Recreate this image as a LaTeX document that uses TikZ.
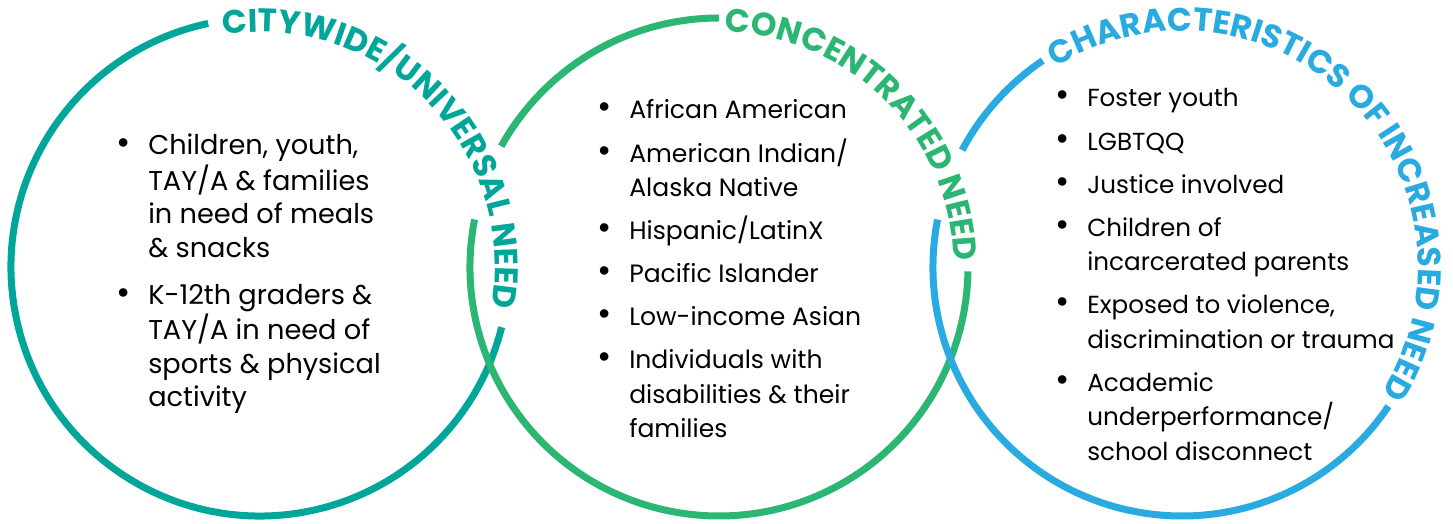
\documentclass[tikz,border=0pt]{standalone}
\usepackage{fontspec}
\setmainfont{Poppins}
\usetikzlibrary{decorations.text}
\definecolor{cityteal}{RGB}{0,166,154}
\definecolor{concgreen}{RGB}{44,182,115}
\definecolor{charblue}{RGB}{41,170,225}
\newcommand{\headfont}{\fontsize{24.5}{28}\selectfont\bfseries}
\newcommand{\bul}{\makebox[24pt][l]{\fontsize{26}{26}\selectfont\textbullet}}

\begin{document}
\begin{tikzpicture}[x=0.75pt, y=0.75pt,
    ring/.style={line width=5.25pt, draw=#1},
    head/.style 2 args={decorate, decoration={text along path, text align=center,
        text color=#1, text={|\headfont|#2}}},
    bodylist/.style={inner sep=0pt, anchor=base west, align=left}]
  \useasboundingbox (0,0) rectangle (1453,524);
  \coordinate (cityC) at (260,257);
  \coordinate (concC) at (719,257);
  \coordinate (charC) at (1182,257);
  % rings, open where the headings run
  \draw[ring=cityteal] (cityC) ++(102:249) arc[start angle=102, end angle=346, radius=249];
  \draw[ring=concgreen] (concC) ++(90:249) arc[start angle=90, end angle=151, radius=249];
  \draw[ring=concgreen] (concC) ++(169:249) arc[start angle=169, end angle=359, radius=249];
  \draw[ring=charblue] (charC) ++(124:249) arc[start angle=124, end angle=152, radius=249];
  \draw[ring=charblue] (charC) ++(169:249) arc[start angle=169, end angle=326, radius=249];
  % headings
  \path[head={cityteal}{CITYWIDE/UNIVERSAL NEED}] (cityC) ++(129.5:235) arc[start angle=129.5, end angle=-40.5, radius=235];
  \path[head={concgreen}{CONCENTRATED NEED}] (concC) ++(130:235) arc[start angle=130, end angle=-40, radius=235];
  \path[head={charblue}{CHARACTERISTICS OF INCREASED NEED}] (charC) ++(145:236) arc[start angle=145, end angle=-55, radius=236];
  % lists
  \node[bodylist, font=\fontsize{20.4}{25}\selectfont] (cityList) at (116,369) {%
    \begin{tabular}[t]{@{}l@{}l@{}}
      \bul & Children, youth,\\
           & TAY/A \& families\\
           & in need of meals\\
           & \& snacks\\[10.3pt]
      \bul & K-12th graders \&\\
           & TAY/A in need of\\
           & sports \& physical\\
           & activity
    \end{tabular}};
  \node[bodylist, font=\fontsize{18.8}{25.9}\selectfont] (concList) at (597,405) {%
    \begin{tabular}[t]{@{}l@{}l@{}}
      \bul & African American\\[6.4pt]
      \bul & American Indian/\\
           & Alaska Native\\[6.4pt]
      \bul & Hispanic/LatinX\\[6.4pt]
      \bul & Pacific Islander\\[6.4pt]
      \bul & Low-income Asian\\[6.4pt]
      \bul & Individuals with\\
           & disabilities \& their\\
           & families
    \end{tabular}};
  \node[bodylist, font=\fontsize{18.5}{25.9}\selectfont] (charList) at (1055,417) {%
    \begin{tabular}[t]{@{}l@{}l@{}}
      \bul & Foster youth\\[6.4pt]
      \bul & LGBTQQ\\[6.4pt]
      \bul & Justice involved\\[6.4pt]
      \bul & Children of\\
           & incarcerated parents\\[6.4pt]
      \bul & Exposed to violence,\\
           & discrimination or trauma\\[6.4pt]
      \bul & Academic\\
           & underperformance/\\
           & school disconnect
    \end{tabular}};
\end{tikzpicture}
\end{document}
